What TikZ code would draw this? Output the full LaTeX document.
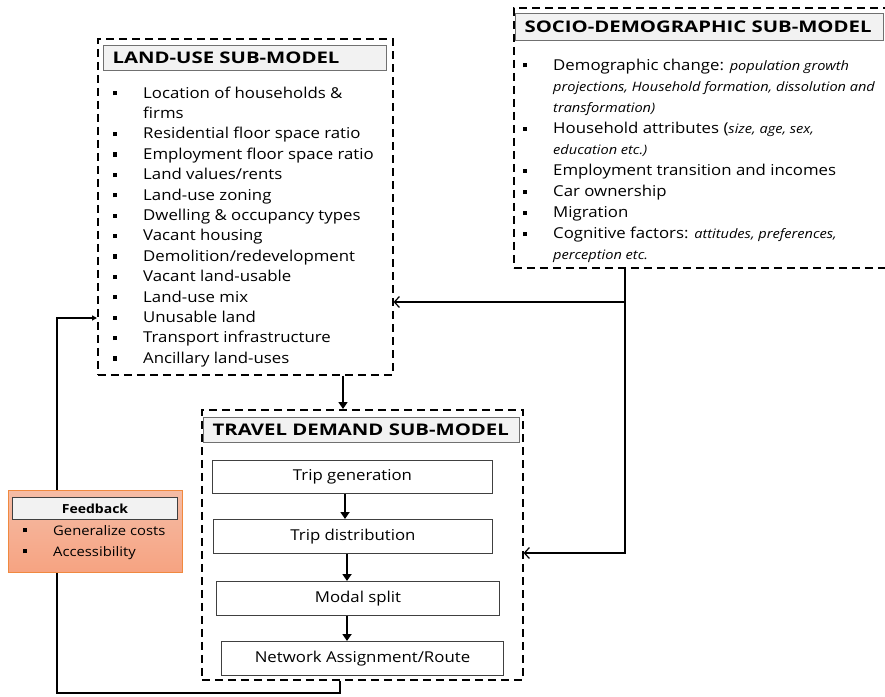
\documentclass[tikz,border=0pt]{standalone}
\usepackage{fontspec}
\setmainfont{Open Sans}[FakeStretch=1.12]
\newfontfamily\titlefont{Open Sans}[FakeStretch=1.27]
\usetikzlibrary{arrows.meta,calc}
\definecolor{titlegray}{HTML}{F2F2F2}
\definecolor{titleedge}{HTML}{707070}
\definecolor{fbtop}{HTML}{F5BCA6}
\definecolor{fbbot}{HTML}{F6A381}
\definecolor{fbedge}{HTML}{F0893F}
\newcommand{\sqb}{\rule[2.6pt]{4.2pt}{4.2pt}}
\newcommand{\bitem}[1]{\par\noindent\makebox[30pt][l]{\sqb}#1}
\newcommand{\bcont}[1]{\par\noindent\hspace*{30pt}#1}
\newcommand{\itx}[1]{{\fontsize{13}{15}\selectfont\itshape #1}}
\begin{document}
\begin{tikzpicture}[x=1pt,y=-1pt,
  dashbox/.style={draw, dash pattern=on 8pt off 5pt, line width=1.6pt, inner sep=0, anchor=north west},
  titlebox/.style={draw=titleedge, fill=titlegray, line width=1.2pt, inner xsep=9pt, inner ysep=0, anchor=north west, align=left, font=\titlefont\bfseries\fontsize{16}{18}\selectfont},
  tripbox/.style={draw=black!75, fill=white, line width=1pt, inner sep=0, anchor=north west, font=\fontsize{15}{17}\selectfont},
  listtxt/.style={inner sep=0, anchor=base west},
  tripflow/.style={line width=2.5pt, -{Triangle[length=7pt,width=9pt]}},
  barb/.style={line width=1.2pt, -{Straight Barb[length=5pt,width=11pt]}},
  loop/.style={line width=1.5pt}
]
\useasboundingbox (0,0) rectangle (885,696);

% ---------- land-use sub-model ----------
\node[dashbox, minimum width=295pt, minimum height=336pt] (lu) at (97,38) {};
\node[titlebox, text width=265pt, minimum height=25pt] (lut) at (103,45) {LAND-USE SUB-MODEL};
\node[listtxt, font=\fontsize{15}{20.4}\selectfont] (lul) at (113,98) {\parbox[t]{280pt}{%
\bitem{Location of households \&}
\bcont{firms}
\bitem{Residential floor space ratio}
\bitem{Employment floor space ratio}
\bitem{Land values/rents}
\bitem{Land-use zoning}
\bitem{Dwelling \& occupancy types}
\bitem{Vacant housing}
\bitem{Demolition/redevelopment}
\bitem{Vacant land-usable}
\bitem{Land-use mix}
\bitem{Unusable land}
\bitem{Transport infrastructure}
\bitem{Ancillary land-uses}}};

% ---------- socio-demographic sub-model ----------
\node[dashbox, minimum width=390pt, minimum height=260pt] (soc) at (513,7) {};
\node[titlebox, text width=350pt, minimum height=27pt] (soct) at (515,13) {SOCIO-DEMOGRAPHIC SUB-MODEL};
\node[listtxt, font=\fontsize{15}{21.1}\selectfont] (socl) at (523,70) {\parbox[t]{360pt}{%
\bitem{Demographic change: \itx{population growth}}
\bcont{\itx{projections, Household formation, dissolution and}}
\bcont{\itx{transformation)}}
\bitem{Household attributes (\itx{size, age, sex,}}
\bcont{\itx{education etc.)}}
\bitem{Employment transition and incomes}
\bitem{Car ownership}
\bitem{Migration}
\bitem{Cognitive factors: \itx{attitudes, preferences,}}
\bcont{\itx{perception etc.}}}};

% ---------- travel demand sub-model ----------
\node[dashbox, minimum width=321pt, minimum height=270pt] (tr) at (201,409) {};
\node[titlebox, text width=298pt, minimum height=25pt] (trt) at (203,417) {TRAVEL DEMAND SUB-MODEL};
\node[tripbox, minimum width=280pt, minimum height=33pt] (gen) at (212,460) {Trip generation};
\node[tripbox, minimum width=279pt, minimum height=34pt] (dist) at (213,519) {Trip distribution};
\node[tripbox, minimum width=283pt, minimum height=34pt] (modal) at (216,581) {Modal split};
\node[tripbox, minimum width=282pt, minimum height=34pt] (net) at (221,641) {Network Assignment/Route};

\coordinate (a1) at (345,0);
\coordinate (a2) at (347,0);
\draw[tripflow] (gen.south -| a1) -- (dist.north -| a1);
\draw[tripflow] (dist.south -| a2) -- (modal.north -| a2);
\draw[tripflow] (modal.south -| a2) -- (net.north -| a2);

% ---------- land-use -> travel demand ----------
\coordinate (a0) at (343,0);
\draw[line width=1.5pt, -{Triangle[length=7pt,width=9pt]}] (lu.south -| a0) -- (tr.north -| a0);

% ---------- socio-demographic -> land-use / travel demand ----------
\coordinate (j1) at (625,302);
\coordinate (j2) at (625,553);
\draw[barb] (soc.south -| j1) -- (j2) -- (tr.east |- j2);
\draw[barb] (j1) -- (lu.east |- j1);

% ---------- feedback loop ----------
\coordinate (f1) at (340,693);
\coordinate (f2) at (57,693);
\coordinate (f3) at (57,318);
\draw[loop, -{Triangle[length=5pt,width=5pt]}] (tr.south -| f1) -- (f1) -- (f2) -- (f3) -- (lu.west |- f3);

\node[draw=fbedge, line width=1.2pt, top color=fbtop, bottom color=fbbot, inner sep=0, anchor=north west, minimum width=174pt, minimum height=82pt] (fb) at (8,490) {};
\node[draw=black!75, fill=titlegray, line width=1pt, inner sep=0, anchor=north west, minimum width=165pt, minimum height=22pt, font=\bfseries\fontsize{12.5}{16}\selectfont] (fbt) at (12,497) {Feedback};
\node[listtxt, font=\fontsize{13.2}{21}\selectfont] (fbl) at (23,535) {\parbox[t]{160pt}{%
\bitem{Generalize costs}
\bitem{Accessibility}}};
\end{tikzpicture}
\end{document}
